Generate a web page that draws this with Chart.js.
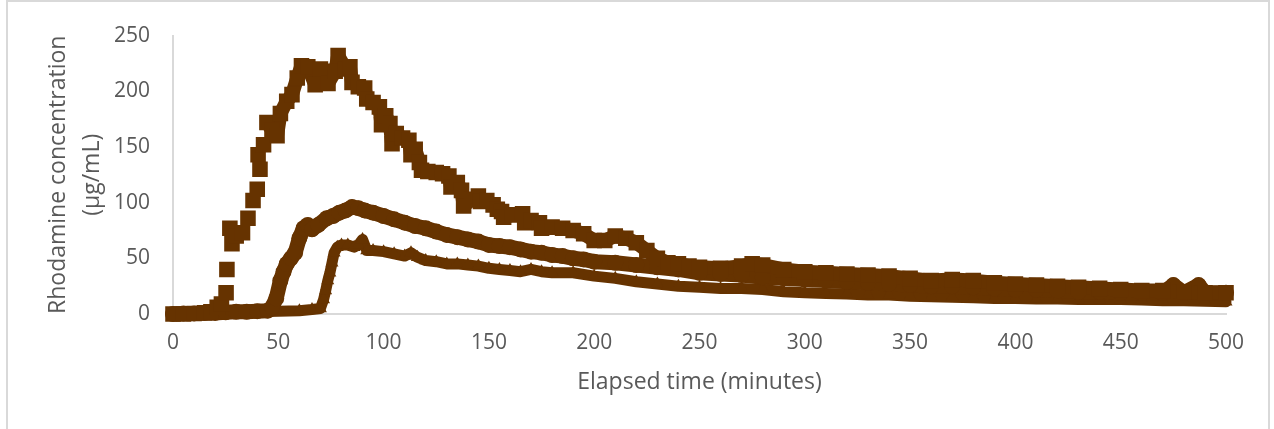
<!DOCTYPE html>
<html>
<head>
<meta charset="utf-8">
<script src="https://cdn.jsdelivr.net/npm/chart.js@4"></script>
<style>
  html, body { margin: 0; padding: 0; background: #fff; overflow: hidden; }
  #frame { position: absolute; left: 6px; top: 0; width: 1260px; height: 440px; border: 2px solid #d9d9d9; }
  #wrap { position: absolute; left: 0; top: 0; width: 1274px; height: 429px; }
</style>
</head>
<body>
<div id="frame"></div>
<div id="wrap"><canvas id="chart" width="1274" height="429"></canvas></div>
<script>
// squares (upper curve)
const sqTime = [0, 5, 10, 15, 18, 21, 23, 25.2, 25.6, 27, 28, 30, 33, 35.6, 38, 40, 40.4, 41.3, 43, 44.6,
  47, 49.4, 51, 54, 56.5, 59, 61, 64, 67.5, 70, 73.6, 77, 78.4, 82, 84, 85, 88, 91, 92, 95,
  98, 99, 101, 103, 104, 106, 109, 112, 113, 115, 117, 118, 121, 125, 128, 131, 132, 135, 137, 138,
  142, 145, 146, 149, 152, 154, 156, 157, 161, 166, 167, 170, 174, 175, 180, 185, 190, 195, 200, 205,
  210, 215, 220, 225, 230, 235, 240, 245, 250, 260, 270, 275, 280, 290, 300, 310, 320, 330, 340, 350,
  360, 370, 380, 390, 400, 410, 420, 430, 440, 450, 460, 470, 480, 490, 500];
const sqConc = [0, 0, 0.5, 1, 2, 6, 9, 19, 40, 77, 63, 70, 73, 86, 102, 112, 143, 130, 152, 172,
  165, 160, 180, 191, 197, 212, 223, 222, 206, 220, 207, 218, 232, 220, 222, 208, 204, 203, 193, 190,
  186, 170, 178, 171, 153, 162, 158, 156, 143, 148, 136, 129, 128, 127, 126, 124, 114, 118, 111, 97,
  103, 106, 101, 102, 98, 94, 92, 87, 89, 90, 82, 84, 82, 77, 78, 77, 75, 72, 66, 66,
  70, 68, 64, 57, 50, 46, 45, 43, 42, 41, 43, 45, 44, 40, 38, 37, 36, 35, 34, 32,
  30, 31, 30, 28, 27, 26, 25, 24, 23, 22, 21, 21, 20, 19, 19];

// circles (middle curve)
const ciTime = [0, 5, 10, 15, 20, 25, 30, 35, 40, 45, 47, 49, 51, 52.5, 54, 56, 58, 60, 62, 64,
  66, 69, 73, 76, 79, 82, 85, 88, 91, 95, 100, 105, 110, 115, 120, 125, 130, 135, 140, 145,
  150, 155, 160, 165, 170, 175, 180, 185, 190, 195, 200, 210, 220, 230, 240, 250, 260, 270, 280, 290,
  300, 310, 320, 330, 340, 350, 360, 370, 380, 390, 400, 410, 420, 430, 440, 450, 460, 470, 475, 480,
  487, 490, 500];
const ciConc = [0, 0.5, 0.5, 1, 1, 1.5, 2, 2, 2.5, 3, 6, 14, 30, 38, 45, 50, 55, 68, 77, 80,
  76, 80, 86, 88, 91, 93, 96, 95, 93, 91, 88, 85, 82, 79, 77, 74, 71, 69, 67, 65,
  62, 61, 60, 58, 56, 55, 53, 52, 50, 49, 47, 46, 44, 42, 40, 37, 36, 35, 33, 32,
  31, 30, 29, 28, 27, 26, 25, 25, 24, 23, 22, 22, 21, 20, 20, 19, 19, 19, 26, 19,
  26, 19, 19];

// triangles (lower curve)
const trTime = [0, 10, 20, 30, 40, 50, 60, 66, 70, 71.5, 72.5, 73.5, 74.5, 75.5, 76.5, 78, 80, 83, 86, 88,
  90, 92, 95, 100, 105, 110, 113, 116, 120, 125, 130, 135, 140, 145, 150, 155, 160, 165, 170, 175,
  180, 190, 200, 210, 220, 230, 240, 250, 260, 270, 280, 290, 300, 310, 320, 330, 340, 350, 360, 370,
  380, 390, 400, 410, 420, 430, 440, 450, 460, 470, 480, 490, 500];
const trConc = [0, 0.5, 1, 1.5, 2, 2.5, 3, 4, 5, 13, 21, 30, 37, 46, 55, 60, 62, 62, 60, 62,
  67, 57, 57, 56, 54, 52, 55, 51, 48, 47, 45, 45, 44, 43, 41, 40, 39, 38, 40, 38,
  37, 37, 34, 32, 29, 27, 25, 24, 23, 23, 22, 20, 19, 18.5, 18, 17, 17, 16, 15.5, 15,
  14.5, 14, 14, 13.5, 13.5, 13, 13, 13, 12.5, 12, 12, 11.5, 11];

const xTicks = [0, 50, 100, 150, 200, 250, 300, 350, 400, 450, 500];
const yTicks = [0, 50, 100, 150, 200, 250];

const brown = '#663300';
const textGrey = '#595959';
const axisGrey = '#d9d9d9';

function toPoints(xs, ys) {
  return xs.map((x, i) => ({ x: x, y: ys[i] }));
}

const baseSet = {
  showLine: true,
  borderColor: brown,
  backgroundColor: brown,
  pointBackgroundColor: brown,
  pointBorderWidth: 0,
  tension: 0,
  borderJoinStyle: 'round',
  borderCapStyle: 'round',
  clip: 16
};

new Chart(document.getElementById('chart'), {
  type: 'scatter',
  data: {
    datasets: [
      Object.assign({}, baseSet, {
        label: 'squares',
        data: toPoints(sqTime, sqConc),
        pointStyle: 'rect',
        pointRadius: 11,
        borderWidth: 14,
        // the early rise is made of separate markers
        segment: { borderColor: ctx => (ctx.p1.parsed.x > 22 && ctx.p1.parsed.x <= 45) ? 'rgba(0,0,0,0)' : brown }
      }),
      Object.assign({}, baseSet, {
        label: 'circles',
        data: toPoints(ciTime, ciConc),
        pointStyle: 'circle',
        pointRadius: 8,
        borderWidth: 15
      }),
      Object.assign({}, baseSet, {
        label: 'triangles',
        data: toPoints(trTime, trConc),
        pointStyle: 'triangle',
        pointRadius: 7.5,
        borderWidth: 11
      })
    ]
  },
  options: {
    responsive: false,
    animation: false,
    events: [],
    layout: { padding: { top: 30, right: 48, left: 0, bottom: 0 } },
    plugins: { legend: { display: false }, tooltip: { enabled: false } },
    scales: {
      x: {
        type: 'linear',
        min: 0,
        max: 500,
        afterBuildTicks: s => { s.ticks = xTicks.map(v => ({ value: v })); },
        afterFit: s => { s.height = 115; },
        grid: { display: false, drawTicks: false },
        border: { display: true, color: axisGrey, width: 2 },
        ticks: { color: textGrey, font: { family: 'Open Sans', size: 21 }, padding: 16, maxRotation: 0 },
        title: {
          display: true,
          text: 'Elapsed time (minutes)',
          color: textGrey,
          font: { family: 'Open Sans', size: 23 },
          padding: { top: 0, bottom: 33 }
        }
      },
      y: {
        type: 'linear',
        min: 0,
        max: 250,
        afterBuildTicks: s => { s.ticks = yTicks.map(v => ({ value: v })); },
        afterFit: s => { s.width = 173; },
        grid: { display: false, drawTicks: false },
        border: { display: true, color: axisGrey, width: 2 },
        ticks: { color: textGrey, font: { family: 'Open Sans', size: 21 }, padding: 23 },
        title: {
          display: true,
          text: ['Rhodamine concentration', '(μg/mL)'],
          color: textGrey,
          font: { family: 'Open Sans', size: 23, lineHeight: 1.5 },
          padding: { top: 41, bottom: 0 }
        }
      }
    }
  }
});
</script>
</body>
</html>
